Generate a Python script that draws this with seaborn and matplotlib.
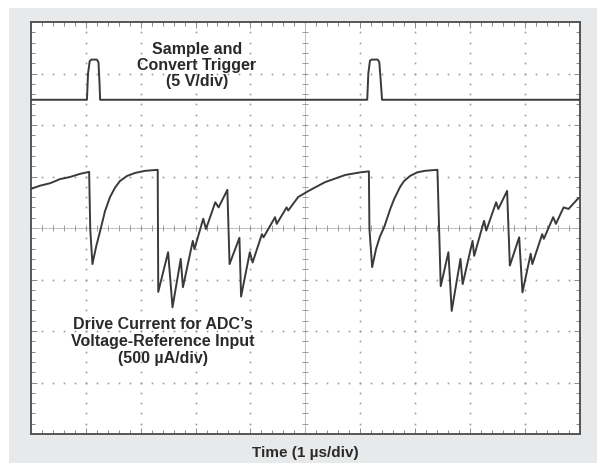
import numpy as np
import pandas as pd
import seaborn as sns
import matplotlib.pyplot as plt
from matplotlib.patches import Rectangle

# time axis in µs (1 µs/div), levels in screen divisions
trig_t = [0.0, 1.02, 1.04, 1.07, 1.10, 1.20, 1.23, 1.25, 1.26,
          6.13, 6.15, 6.18, 6.21, 6.32, 6.35, 6.38, 6.40, 10.0]
trig_v = [6.49, 6.49, 7.0, 7.24, 7.27, 7.27, 7.22, 6.8, 6.49,
          6.49, 7.0, 7.25, 7.27, 7.27, 7.22, 6.8, 6.49, 6.49]

cur_t = [0.00, 0.16, 0.35, 0.53, 0.71, 0.89, 1.06, 1.08, 1.12, 1.19, 1.26, 1.35, 1.44, 1.53,
         1.62, 1.75, 1.90, 2.08, 2.31, 2.32, 2.50, 2.58, 2.73, 2.77, 2.95, 2.98, 3.14, 3.19,
         3.36, 3.42, 3.58, 3.62, 3.80, 3.83, 3.99, 4.04, 4.21, 4.24, 4.45, 4.48, 4.66, 4.69,
         4.87, 5.06, 5.36, 5.73, 6.00, 6.16, 6.17, 6.22, 6.29, 6.36, 6.44, 6.55, 6.62, 6.73,
         6.80, 6.91, 7.04, 7.18, 7.41, 7.47, 7.61, 7.67, 7.83, 7.87, 8.05, 8.08, 8.26, 8.30,
         8.48, 8.52, 8.68, 8.73, 8.90, 8.96, 9.11, 9.14, 9.32, 9.35, 9.52, 9.57, 9.71, 9.80, 9.98]
cur_v = [4.76, 4.82, 4.87, 4.95, 4.99, 5.05, 5.09, 3.98, 3.30, 3.65, 3.94, 4.33, 4.60, 4.78,
         4.91, 5.01, 5.07, 5.11, 5.13, 2.76, 3.53, 2.46, 3.40, 2.85, 3.75, 3.59, 4.18, 3.98,
         4.50, 4.40, 4.74, 3.30, 3.81, 2.67, 3.53, 3.33, 3.88, 3.82, 4.21, 4.08, 4.40, 4.34,
         4.60, 4.72, 4.89, 5.03, 5.08, 5.10, 3.98, 3.24, 3.59, 3.83, 4.02, 4.37, 4.56, 4.80,
         4.91, 5.01, 5.08, 5.11, 5.13, 2.87, 3.53, 2.39, 3.40, 2.91, 3.75, 3.46, 4.14, 3.95,
         4.50, 4.37, 4.72, 3.27, 3.82, 2.75, 3.50, 3.30, 3.88, 3.79, 4.21, 4.08, 4.40, 4.37, 4.58]

trig_label = "Sample and\nConvert Trigger\n(5 V/div)"
cur_label = "Drive Current for ADC\u2019s\nVoltage-Reference Input\n(500 \u00b5A/div)"
x_label = "Time (1 \u00b5s/div)"

sns.set_style("white")
plt.rcParams['font.family'] = ['Liberation Sans', 'DejaVu Sans']

trace_col = '#3a3a3a'
grid_col = '#9a9a9a'
text_col = '#2a2a2a'

fig = plt.figure(figsize=(5.97, 4.64), dpi=100)
fig.patch.set_facecolor('white')
# grey panel behind the scope screen
fig.patches.append(Rectangle((9 / 597, 0), 1 - 9 / 597, 1 - 9 / 464, transform=fig.transFigure,
                             facecolor='#e8e9ea', edgecolor='none', zorder=-10))

ax = fig.add_axes([31 / 597, 29 / 464, 548.5 / 597, 412 / 464])
ax.set_zorder(1)
ax.set_facecolor('white')

# dotted graticule
minor_x = np.arange(0, 10.01, 0.2)
minor_y = np.arange(0, 8.01, 0.2)
for gx in range(1, 10):
    if gx == 5:
        continue
    ax.plot(np.full_like(minor_y, gx), minor_y, ls='none', marker='s', ms=1.2, color=grid_col, mew=0)
for gy in range(1, 8):
    if gy == 4:
        continue
    ax.plot(minor_x, np.full_like(minor_x, gy), ls='none', marker='s', ms=1.2, color=grid_col, mew=0)

# centre crosshair with minor ticks
ax.axvline(5, color='#b5b5b5', lw=0.6, zorder=1)
ax.axhline(4, color='#b5b5b5', lw=0.6, zorder=1)
ax.plot(np.full_like(minor_y, 5), minor_y, ls='none', marker='_', ms=5, color=grid_col, mew=0.7)
ax.plot(minor_x, np.full_like(minor_x, 4), ls='none', marker='|', ms=5, color=grid_col, mew=0.7)

trig = pd.DataFrame({'t': trig_t, 'v': trig_v})
cur = pd.DataFrame({'t': cur_t, 'v': cur_v})
sns.lineplot(data=trig, x='t', y='v', sort=False, estimator=None, color=trace_col, lw=1.4, ax=ax, zorder=3)
sns.lineplot(data=cur, x='t', y='v', sort=False, estimator=None, color=trace_col, lw=1.4, ax=ax, zorder=3)

ax.set_xlim(0, 10)
ax.set_ylim(0, 8)
ax.set_xticks(range(0, 11))
ax.set_yticks(range(0, 9))
ax.set_xticks(minor_x, minor=True)
ax.set_yticks(minor_y, minor=True)
ax.tick_params(which='both', direction='in', top=True, right=True, bottom=True, left=True,
               labelbottom=False, labelleft=False, color='#888888', width=0.7)
ax.tick_params(which='major', length=4)
ax.tick_params(which='minor', length=3)
ax.set_xlabel('')
ax.set_ylabel('')
for s in ax.spines.values():
    s.set_color('#555555')
    s.set_linewidth(1.4)

ax.text(3.02, 7.17, trig_label, ha='center', va='center', fontsize=11.5, fontweight='bold',
        color=text_col, linespacing=1.1, zorder=4)
ax.text(2.41, 1.81, cur_label, ha='center', va='center', fontsize=11.5, fontweight='bold',
        color=text_col, linespacing=1.15, zorder=4)
fig.text(305 / 597, 1 - 453 / 464, x_label, ha='center', va='center', fontsize=11,
         fontweight='bold', color=text_col)

fig.savefig('out.png', dpi=100)
